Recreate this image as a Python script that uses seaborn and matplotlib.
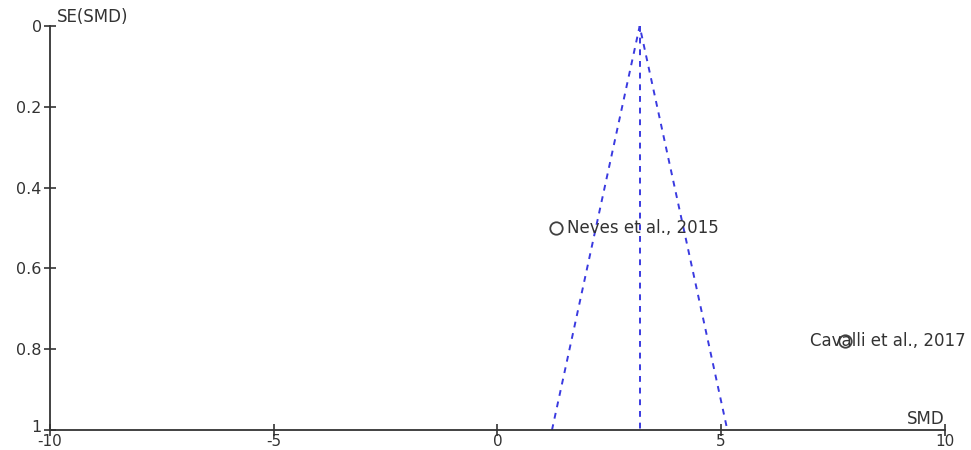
import numpy as np
import pandas as pd
import seaborn as sns
import matplotlib
matplotlib.use("Agg")
import matplotlib.pyplot as plt
import matplotlib.transforms as mtransforms

# study data
studies = ["Neves et al., 2015", "Cavalli et al., 2017"]
smd = [1.31, 7.77]
se_smd = [0.50, 0.78]
pooled_smd = 3.18

x_ticks = [-10, -5, 0, 5, 10]
y_ticks = [0, 0.2, 0.4, 0.6, 0.8, 1]
y_ticklabels = ["0", "0.2", "0.4", "0.6", "0.8", "1"]

sns.set_theme(style="white")
plt.rcParams["font.family"] = ["DejaVu Sans"]
text_color = "#333333"

df = pd.DataFrame({"study": studies, "SMD": smd, "SE": se_smd})

fig = plt.figure(figsize=(9.71, 4.5), dpi=100)
ax = fig.add_axes([0.0515, 0.0444, 0.9215, 0.8976])

# funnel: pooled estimate and 95% limits
se_max = 1.0
ax.plot([pooled_smd, pooled_smd], [0, se_max], ls=(0, (3, 3)), color="#3a3ae0", lw=1.4)
ax.plot([pooled_smd - 1.96 * se_max, pooled_smd, pooled_smd + 1.96 * se_max],
        [se_max, 0, se_max], ls=(0, (3, 3)), color="#3a3ae0", lw=1.4)

sns.scatterplot(data=df, x="SMD", y="SE", ax=ax, s=80, marker="o",
                facecolor="white", edgecolor="#404040", linewidth=1.3, zorder=3)

offsets = [(11, 0), (-35, 0)]
for (_, row), off in zip(df.iterrows(), offsets):
    ax.annotate(row["study"], (row["SMD"], row["SE"]), xytext=off,
                textcoords="offset pixels",
                ha="left", va="center", fontsize=12, color=text_color, zorder=4)

ax.set_xlim(-10, 10)
ax.set_ylim(1, 0)
ax.set_xticks(x_ticks)
ax.set_xticklabels([str(t) for t in x_ticks])
ax.set_yticks(y_ticks)
ax.set_yticklabels(y_ticklabels)
ax.tick_params(axis="both", direction="inout", length=9, width=1.2,
               colors="#333333", labelsize=11.5, bottom=True, left=True)
ax.tick_params(axis="y", pad=1.5)
ax.tick_params(axis="x", pad=-1.5, labelsize=11)
ax.set_xlabel("")
ax.set_ylabel("")

# lift the bottom y label a touch so it clears the "-10" below it
last = ax.get_yticklabels()[-1]
last.set_transform(last.get_transform() +
                   mtransforms.ScaledTranslation(0, 3 / 72, fig.dpi_scale_trans))

for side in ["top", "right"]:
    ax.spines[side].set_visible(False)
for side in ["left", "bottom"]:
    ax.spines[side].set_color("#333333")
    ax.spines[side].set_linewidth(1.3)

ax.text(0.008, 1.0, "SE(SMD)", transform=ax.transAxes, ha="left", va="bottom",
        fontsize=12, color=text_color)
ax.text(1.0, 0.005, "SMD", transform=ax.transAxes, ha="right", va="bottom",
        fontsize=12, color=text_color)

fig.savefig("out.png", dpi=100)
